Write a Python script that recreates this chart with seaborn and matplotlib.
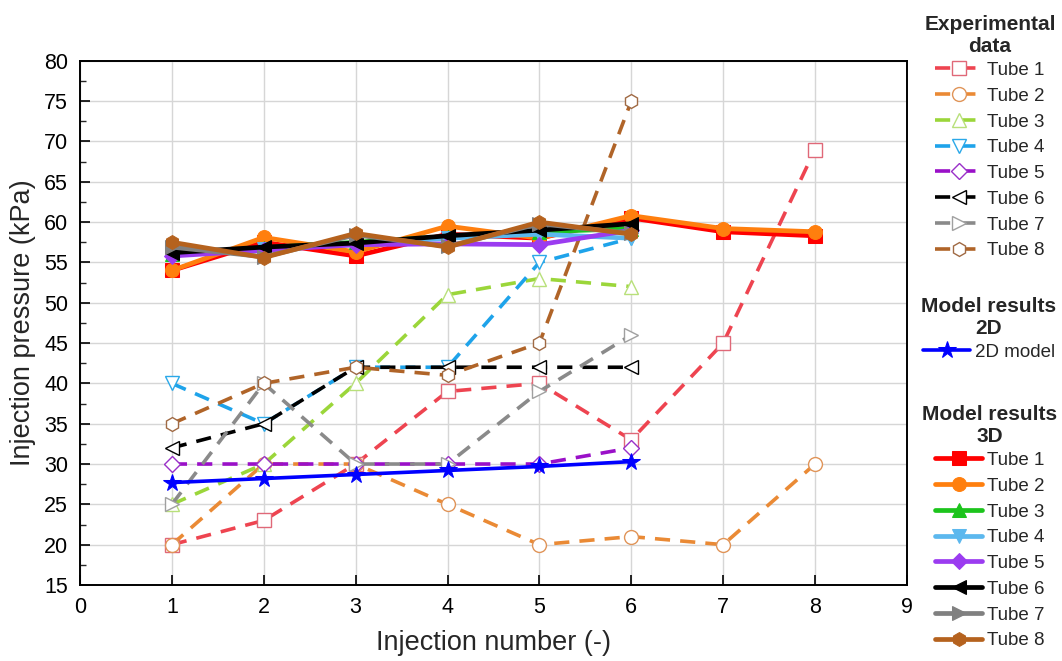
import matplotlib
matplotlib.use("Agg")
import matplotlib.pyplot as plt
from matplotlib.ticker import MultipleLocator
import seaborn as sns

# injection numbers
inj8 = [1, 2, 3, 4, 5, 6, 7, 8]
inj6 = [1, 2, 3, 4, 5, 6]

# experimental data (kPa)
exp_tube1 = [20, 23, 30, 39, 40, 33, 45, 69]
exp_tube2 = [20, 30, 30, 25, 20, 21, 20, 30]
exp_tube3 = [25, 30, 40, 51, 53, 52]
exp_tube4 = [40, 35, 42, 42, 55, 58]
exp_tube5 = [30, 30, 30, 30, 30, 32]
exp_tube6 = [32, 35, 42, 42, 42, 42]
exp_tube7 = [25, 40, 30, 30, 39, 46]
exp_tube8 = [35, 40, 42, 41, 45, 75]

# 2D model
model_2d = [27.7, 28.2, 28.7, 29.2, 29.7, 30.3]

# 3D model results (kPa)
m3d_tube1 = [54.0, 57.5, 55.8, 58.5, 58.0, 60.5, 58.8, 58.3]
m3d_tube2 = [54.0, 58.1, 56.3, 59.5, 58.0, 60.8, 59.2, 58.8]
m3d_tube3 = [56.0, 56.8, 57.5, 58.2, 58.8, 59.2]
m3d_tube4 = [56.2, 56.7, 57.2, 58.0, 58.5, 58.0]
m3d_tube5 = [55.8, 56.5, 57.2, 57.3, 57.2, 59.0]
m3d_tube6 = [56.2, 56.9, 57.4, 58.3, 59.0, 59.8]
m3d_tube7 = [56.9, 55.7, 58.4, 57.0, 59.8, 58.6]
m3d_tube8 = [57.5, 55.6, 58.6, 56.9, 60.0, 58.5]

tube_names = ["Tube 1", "Tube 2", "Tube 3", "Tube 4", "Tube 5", "Tube 6", "Tube 7", "Tube 8"]
exp_series = [exp_tube1, exp_tube2, exp_tube3, exp_tube4, exp_tube5, exp_tube6, exp_tube7, exp_tube8]
m3d_series = [m3d_tube1, m3d_tube2, m3d_tube3, m3d_tube4, m3d_tube5, m3d_tube6, m3d_tube7, m3d_tube8]

exp_colors = ["#EE4450", "#EA8A35", "#9BD63A", "#1EA3EA", "#9A10C8", "#000000", "#8A8A8A", "#B06428"]
exp_edges = ["#E06878", "#E09458", "#B8E07A", "#2AA8E8", "#9A30C8", "#000000", "#A0A0A0", "#A06A44"]
m3d_colors = ["#FF0000", "#FF7F0E", "#1CC41C", "#5CB8EE", "#9B3CF0", "#000000", "#808080", "#B5621E"]
markers = ["s", "o", "^", "v", "D", "<", ">", "h"]

sns.set_style("ticks")
plt.rcParams["font.family"] = ["Liberation Sans", "DejaVu Sans"]

fig = plt.figure(figsize=(10.62, 6.61), dpi=100)
ax = fig.add_axes([0.0753, 0.115, 0.7787, 0.793])

dash = (0, (4.2, 2.8))
exp_handles = []
for name, vals, c, ec, m in zip(tube_names, exp_series, exp_colors, exp_edges, markers):
    xs = inj8 if len(vals) == 8 else inj6
    sns.lineplot(x=xs, y=vals, ax=ax, color=c, linestyle=dash, linewidth=2.6,
                 marker=m, markersize=10 if m != "D" else 8.5, markerfacecolor="white",
                 markeredgecolor=ec, markeredgewidth=1.0, label=name, zorder=2)
    exp_handles.append(ax.get_lines()[-1])

sns.lineplot(x=inj6, y=model_2d, ax=ax, color="#0000FF", linewidth=2.6,
             marker="*", markersize=13, markeredgecolor="#0000FF", label="2D model", zorder=4)
h2d = [ax.get_lines()[-1]]

m3d_handles = []
for name, vals, c, m in zip(tube_names, m3d_series, m3d_colors, markers):
    xs = inj8 if len(vals) == 8 else inj6
    sns.lineplot(x=xs, y=vals, ax=ax, color=c, linewidth=3.4,
                 marker=m, markersize=10 if m != "D" else 8.5, markeredgecolor=c,
                 label=name, zorder=3)
    m3d_handles.append(ax.get_lines()[-1])

ax.legend_.remove()

ax.set_xlim(0, 9)
ax.set_ylim(15, 80)
ax.xaxis.set_major_locator(MultipleLocator(1))
ax.yaxis.set_major_locator(MultipleLocator(5))
ax.yaxis.set_minor_locator(MultipleLocator(2.5))
ax.grid(True, which="major", color="#D6D6D6", linewidth=1.0, zorder=0)
ax.set_axisbelow(True)
for s in ax.spines.values():
    s.set_linewidth(1.4)
    s.set_color("black")
ax.tick_params(axis="both", which="major", direction="in", length=7, width=1.2,
               labelsize=15.5, colors="black")
ax.tick_params(axis="y", which="major", pad=8.5)
ax.tick_params(axis="x", which="major", pad=9)
ax.tick_params(axis="y", which="minor", direction="in", length=4, width=1.0)
ax.tick_params(axis="x", which="minor", bottom=False)

ax.set_xlabel("Injection number (-)", fontsize=19.5, labelpad=8)
ax.set_ylabel("Injection pressure (kPa)", fontsize=19.5, labelpad=6)

leg_kw = dict(frameon=False, fontsize=13.5, handlelength=2.5, handletextpad=0.25,
              labelspacing=0.46, borderpad=0.0, loc="upper center",
              title_fontproperties={"weight": "bold", "size": 15})

leg1 = fig.legend(handles=exp_handles, labels=tube_names, title="Experimental\ndata",
                  bbox_to_anchor=(990 / 1062, 1 - 6 / 661), **leg_kw)
leg2 = fig.legend(handles=h2d, labels=["2D model"], title="Model results\n2D",
                  bbox_to_anchor=(989 / 1062, 1 - 288 / 661), **leg_kw)
leg3 = fig.legend(handles=m3d_handles, labels=tube_names, title="Model results\n3D",
                  bbox_to_anchor=(990 / 1062, 1 - 396 / 661), **leg_kw)
for lg in (leg1, leg2, leg3):
    lg.get_title().set_multialignment("center")
    lg._legend_box.sep = 4

fig.savefig("out.png", dpi=100)
